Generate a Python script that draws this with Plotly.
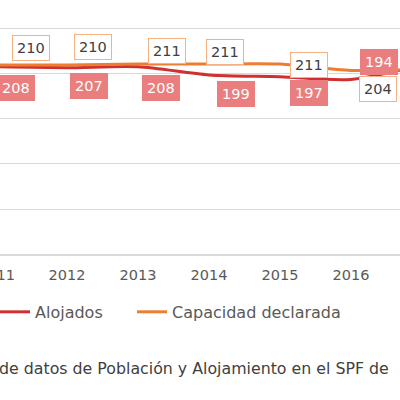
import plotly.graph_objects as go

years = [2011, 2012, 2013, 2014, 2015, 2016, 2017]
alojados = [208, 207, 208, 199, 197, 194, 210]
capacidad = [210, 210, 211, 211, 211, 204, 205]
caption = "de datos de Población y Alojamiento en el SPF de"

RED = "#D03030"
RED_BOX = "#EA7E7E"
ORANGE = "#ED7D31"
ORANGE_BOX = "#F4B183"
FONT = "DejaVu Sans"

# label offsets in px (centre of the box relative to the point)
aloj_dx = [20, 22, 23, 27, 29, 28, 25]
aloj_dy = [-21, -18, -21, -19, -16, 17, -18]
cap_dx = [35, 26, 29, 16, 29, 27, 25]
cap_dy = [17, 18, 13, 12, -1, -19, 16]

fig = go.Figure()
fig.add_trace(go.Scatter(x=years, y=alojados, name="Alojados", mode="lines",
                         line=dict(color=RED, width=3, shape="spline", smoothing=0.8),
                         legend="legend"))
fig.add_trace(go.Scatter(x=years, y=capacidad, name="Capacidad declarada", mode="lines",
                         line=dict(color=ORANGE, width=3, shape="spline", smoothing=0.8),
                         legend="legend2"))

px_per_year = 71.0
annotations = []
for i, yr in enumerate(years):
    # anchor a bit to the right so the first year stays on the axis
    annotations.append(dict(x=yr + 0.3, y=alojados[i], xref="x", yref="y",
                            text=str(alojados[i]), showarrow=False,
                            xshift=aloj_dx[i] - 0.3 * px_per_year, yshift=aloj_dy[i],
                            bgcolor=RED_BOX, bordercolor=RED_BOX, borderwidth=1, borderpad=4,
                            font=dict(family=FONT, size=14.5, color="white")))
    annotations.append(dict(x=yr + 0.3, y=capacidad[i], xref="x", yref="y",
                            text=str(capacidad[i]), showarrow=False,
                            xshift=cap_dx[i] - 0.3 * px_per_year, yshift=cap_dy[i],
                            bgcolor="white", bordercolor=ORANGE_BOX, borderwidth=1, borderpad=4,
                            font=dict(family=FONT, size=14.5, color="#404040")))

# first year sits just off the left edge, plotly won't draw its tick label
annotations.append(dict(x=0, y=-0.082, xref="paper", yref="paper", xanchor="center",
                        yanchor="middle", xshift=-4, text=str(years[0]), showarrow=False,
                        font=dict(family=FONT, size=14.5, color="#595959")))

annotations.append(dict(x=0, y=-0.449, xref="paper", yref="paper", xanchor="left",
                        yanchor="middle", xshift=-3, text=caption, showarrow=False,
                        font=dict(family=FONT, size=15.8, color="#404040")))

leg_font = dict(family=FONT, size=16, color="#595959")
fig.update_layout(
    width=400, height=400,
    margin=dict(l=0, r=0, t=0, b=146, autoexpand=False),
    paper_bgcolor="white", plot_bgcolor="white",
    font=dict(family=FONT, color="#595959"),
    showlegend=True,
    legend=dict(orientation="h", x=-0.0125, xanchor="left", y=-0.228, yanchor="middle",
                font=leg_font, bgcolor="rgba(0,0,0,0)"),
    legend2=dict(orientation="h", x=0.33, xanchor="left", y=-0.228, yanchor="middle",
                 font=leg_font, bgcolor="rgba(0,0,0,0)"),
    annotations=annotations,
)
fig.update_xaxes(range=[2011 + 4 / 71, 2011 + 404 / 71], tickvals=years,
                 ticktext=[str(y) for y in years], showgrid=False, zeroline=False,
                 showline=True, linecolor="#D9D9D9", linewidth=1.5,
                 ticklabelstandoff=7, tickfont=dict(family=FONT, size=14.5, color="#595959"))
fig.update_yaxes(range=[0, 282.2], dtick=50, showgrid=True, gridcolor="#D9D9D9",
                 gridwidth=1, zeroline=False, showticklabels=False)

fig.write_html("out.html", config={"displayModeBar": False},
               post_script="document.body.style.margin='0';")
